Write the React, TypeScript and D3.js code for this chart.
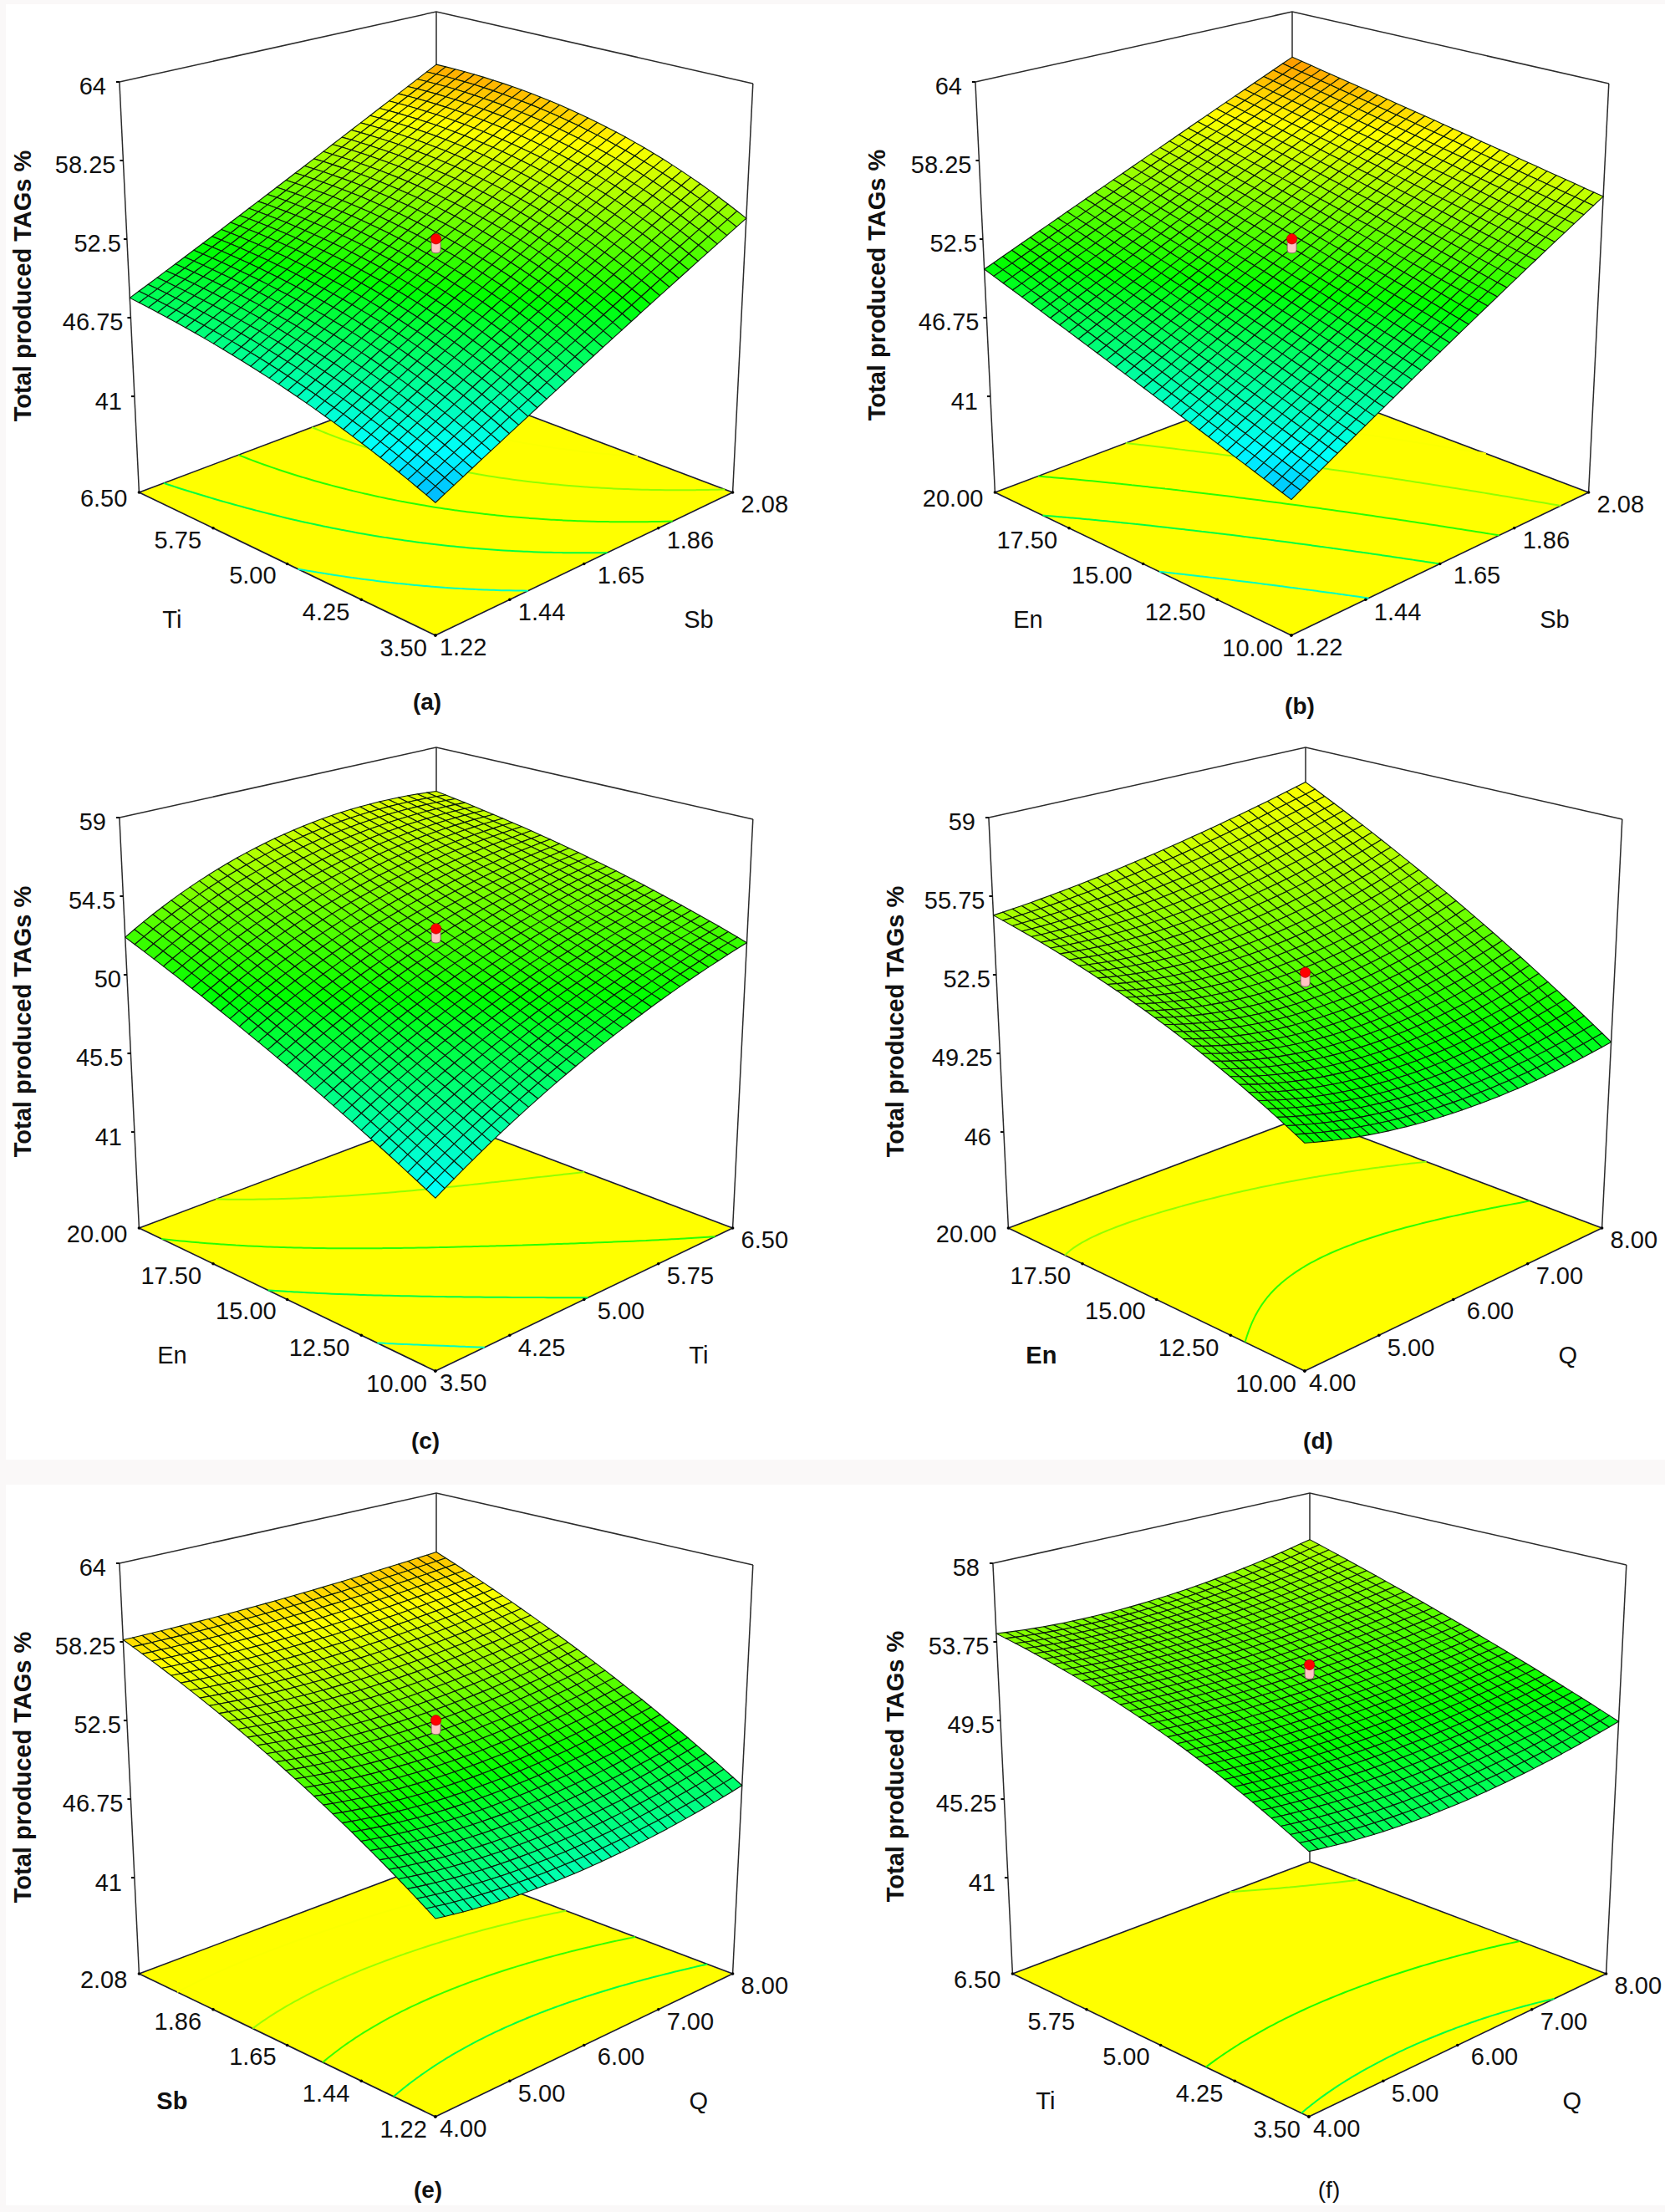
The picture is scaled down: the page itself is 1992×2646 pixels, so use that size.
import React from "react";
import * as d3 from "d3";

const WIDTH = 1992;
const HEIGHT = 2646;
const RESPONSE = "Total produced TAGs %";

// Surface readings: rows go front -> left corner, columns go front -> right corner.
const surfaceA = [[42.7, 48.1, 54.1], [46.2, 52.1, 58.4], [48.2, 53.45, 59.7]];
const surfaceB = [[42.9, 49.0, 55.7], [46.4, 51.9, 57.9], [50.3, 55.0, 60.3]];
const surfaceC = [[44.4, 48.8, 51.9], [48.4, 52.2, 54.4], [52.15, 55.75, 56.2]];
const surfaceD = [[50.5, 49.4, 49.75], [53.2, 52.4, 53.7], [54.96, 55.8, 57.4]];
const surfaceE = [[47.0, 46.3, 47.8], [53.3, 52.6, 53.9], [58.4, 58.5, 59.2]];
const surfaceF = [[48.7, 48.3, 49.5], [52.1, 51.8, 52.4], [54.2, 53.9, 55.2]];

// z axis ticks
const zTicksA = ["41", "46.75", "52.5", "58.25", "64"];
const zTicksC = ["41", "45.5", "50", "54.5", "59"];
const zTicksD = ["46", "49.25", "52.5", "55.75", "59"];
const zTicksF = ["41", "45.25", "49.5", "53.75", "58"];

// floor axis ticks
const ticksTi = ["3.50", "4.25", "5.00", "5.75", "6.50"];
const ticksSb = ["1.22", "1.44", "1.65", "1.86", "2.08"];
const ticksEn = ["10.00", "12.50", "15.00", "17.50", "20.00"];
const ticksQ = ["4.00", "5.00", "6.00", "7.00", "8.00"];

// contour levels on the floor
const contoursA = [46, 49, 51.6, 54.4, 57.2];
const contoursC = [46, 48.9, 51.6, 54.4];
const contoursD = [51.7, 54.4];
const contoursE = [48.9, 51.9, 54.6, 57.2];
const contoursF = [48.9, 51.2, 54.3];

// design point heights
const designPoints = [53.05, 53.05, 53.05, 52.9, 53.05, 52.9];

const panelNames = ["(a)", "(b)", "(c)", "(d)", "(e)", "(f)"];

type Panel = {
  surface: number[][]; zTicks: string[]; leftTicks: string[]; rightTicks: string[];
  leftName: string; rightName: string; leftBold?: boolean; contours: number[];
  dx: number; dy: number; design: number; name: string;
  titleX: number; titleY: number; capX: number; capY: number; capBold: boolean;
};

const panels: Panel[] = [
  { surface: surfaceA, zTicks: zTicksA, leftTicks: ticksTi, rightTicks: ticksSb, leftName: "Ti", rightName: "Sb", contours: contoursA, dx: 0, dy: 0, design: designPoints[0], name: panelNames[0], titleX: 27, titleY: 342, capX: 511, capY: 839, capBold: true },
  { surface: surfaceB, zTicks: zTicksA, leftTicks: ticksEn, rightTicks: ticksSb, leftName: "En", rightName: "Sb", contours: contoursA, dx: 1024, dy: 0, design: designPoints[1], name: panelNames[1], titleX: 1049, titleY: 341, capX: 1555, capY: 844, capBold: true },
  { surface: surfaceC, zTicks: zTicksC, leftTicks: ticksEn, rightTicks: ticksTi, leftName: "En", rightName: "Ti", contours: contoursC, dx: 0, dy: 880, design: designPoints[2], name: panelNames[2], titleX: 27, titleY: 1222, capX: 509, capY: 1723, capBold: true },
  { surface: surfaceD, zTicks: zTicksD, leftTicks: ticksEn, rightTicks: ticksQ, leftName: "En", rightName: "Q", leftBold: true, contours: contoursD, dx: 1040, dy: 880, design: designPoints[3], name: panelNames[3], titleX: 1071, titleY: 1222, capX: 1577, capY: 1723, capBold: true },
  { surface: surfaceE, zTicks: zTicksA, leftTicks: ticksSb, rightTicks: ticksQ, leftName: "Sb", rightName: "Q", leftBold: true, contours: contoursE, dx: 0, dy: 1772, design: designPoints[4], name: panelNames[4], titleX: 27, titleY: 2114, capX: 512, capY: 2619, capBold: true },
  { surface: surfaceF, zTicks: zTicksF, leftTicks: ticksTi, rightTicks: ticksQ, leftName: "Ti", rightName: "Q", contours: contoursF, dx: 1045, dy: 1772, design: designPoints[5], name: panelNames[5], titleX: 1071, titleY: 2113, capX: 1590, capY: 2619, capBold: false },
];

// Box geometry of one panel, corners of floor and ceiling
const floorBox = { F: [520.9, 760], L: [166.4, 589], R: [876.6, 589], B: [522, 455] };
const topBox = { F: [521, 213.7], L: [142.9, 98], R: [900.8, 99.9], B: [522, 14] };
const LOW_TICK_T = 0.234;
const CELLS = 33;
const FONT = "'Liberation Sans', Arial, sans-serif";

const colorScale = d3
  .scaleLinear<string>()
  .domain([36, 43, 44.5, 50.5, 57.3, 60, 65])
  .range(["#0000ff", "#00beff", "#00ffff", "#00ff00", "#ffff00", "#ffa000", "#ff0000"])
  .clamp(true);

const lerp = (a: number[], b: number[], t: number) => [a[0] + (b[0] - a[0]) * t, a[1] + (b[1] - a[1]) * t];

function bilinear(c: { F: number[]; L: number[]; R: number[]; B: number[] }, u: number, v: number) {
  return [0, 1].map(
    (k) => c.F[k] * (1 - u) * (1 - v) + c.L[k] * u * (1 - v) + c.R[k] * (1 - u) * v + c.B[k] * u * v
  );
}

const quad = (t: number) => [2 * (t - 0.5) * (t - 1), 4 * t * (1 - t), 2 * t * (t - 0.5)];

function surfaceAt(table: number[][], u: number, v: number) {
  const a = quad(u);
  const b = quad(v);
  let s = 0;
  for (let i = 0; i < 3; i++) for (let j = 0; j < 3; j++) s += a[i] * b[j] * table[i][j];
  return s;
}

function PanelView({ p }: { p: Panel }) {
  const zLow = +p.zTicks[0];
  const zHigh = +p.zTicks[p.zTicks.length - 1];
  const zT = d3.scaleLinear().domain([zLow, zHigh]).range([LOW_TICK_T, 1]);
  const project = (u: number, v: number, z: number) => lerp(bilinear(floorBox, u, v), bilinear(topBox, u, v), zT(z));
  const floorAt = (u: number, v: number) => bilinear(floorBox, u, v);
  const pts = (a: number[][]) => a.map((q) => q.map((n) => n.toFixed(2)).join(",")).join(" ");

  const cellScale = d3.scaleLinear().domain([0, CELLS]).range([0, 1]);
  const cells: React.ReactNode[] = [];
  for (let i = CELLS - 1; i >= 0; i--) {
    for (let j = CELLS - 1; j >= 0; j--) {
      const c = [[i, j], [i + 1, j], [i + 1, j + 1], [i, j + 1]].map(([a, b]) => [cellScale(a), cellScale(b)]);
      const zs = c.map(([u, v]) => surfaceAt(p.surface, u, v));
      cells.push(
        <polygon
          key={`${i}-${j}`}
          points={pts(c.map(([u, v], k) => project(u, v, zs[k])))}
          fill={colorScale(d3.mean(zs) as number)}
          stroke="#0a1a0a"
          strokeWidth={1.1}
          strokeLinejoin="round"
        />
      );
    }
  }

  // floor contours
  const n = 90;
  const gridValues: number[] = [];
  for (let y = 0; y < n; y++) for (let x = 0; x < n; x++) gridValues.push(surfaceAt(p.surface, y / (n - 1), x / (n - 1)));
  const contourGen = d3.contours().size([n, n]).thresholds(p.contours);
  const contourPaths = contourGen(gridValues).map((c) => {
    let d = "";
    const onEdge = (q: number[]) => q[0] <= 0 || q[1] <= 0 || q[0] >= n || q[1] >= n;
    const toFloor = (q: number[]) => {
      const v = Math.min(1, Math.max(0, (q[0] - 0.5) / (n - 1)));
      const u = Math.min(1, Math.max(0, (q[1] - 0.5) / (n - 1)));
      return floorAt(u, v);
    };
    for (const poly of c.coordinates) {
      for (const ring of poly) {
        let pen = false;
        for (let k = 1; k < ring.length; k++) {
          const a = ring[k - 1];
          const b = ring[k];
          if (onEdge(a) || onEdge(b)) { pen = false; continue; }
          const pa = toFloor(a);
          const pb = toFloor(b);
          if (!pen) d += `M${pa[0].toFixed(2)},${pa[1].toFixed(2)}`;
          d += `L${pb[0].toFixed(2)},${pb[1].toFixed(2)}`;
          pen = true;
        }
      }
    }
    return { d, level: c.value };
  });

  const leftPos = d3.scalePoint<string>().domain(p.leftTicks).range([0, 1]);
  const rightPos = d3.scalePoint<string>().domain(p.rightTicks).range([0, 1]);
  const leftGap = [10, 14, 13, 14, 14];
  const leftDy = [15, 14.5, 13.5, 14, 7];
  const rightGap = [5, 10, 16, 10, 10];
  const rightDy = [14, 14.5, 13.5, 14, 14];
  const zGap = [15, 9, 7, 9, 16];
  const tickSize = 29;
  const base = 10.4;

  const dot = project(0.5, 0.5, p.design);
  const frame = "#2b2b2b";
  const corner = (u: number, v: number, box: typeof floorBox) => bilinear(box, u, v);

  return (
    <g>
      <g transform={`translate(${p.dx},${p.dy})`}>
        {/* box */}
        <polyline points={pts([corner(1, 0, topBox), corner(1, 1, topBox), corner(0, 1, topBox)])} fill="none" stroke={frame} strokeWidth={1.5} />
        <line x1={topBox.B[0]} y1={topBox.B[1]} x2={floorBox.B[0]} y2={floorBox.B[1]} stroke={frame} strokeWidth={1.5} />
        <line x1={topBox.L[0]} y1={topBox.L[1]} x2={floorBox.L[0]} y2={floorBox.L[1]} stroke={frame} strokeWidth={1.5} />
        <line x1={topBox.R[0]} y1={topBox.R[1]} x2={floorBox.R[0]} y2={floorBox.R[1]} stroke={frame} strokeWidth={1.5} />
        {/* floor */}
        <polygon points={pts([floorBox.F, floorBox.L, floorBox.B, floorBox.R])} fill="#ffff00" stroke="#1a1a30" strokeWidth={1.6} strokeLinejoin="round" />
        {contourPaths.map((c) => (
          <path key={c.level} d={c.d} fill="none" stroke={colorScale(c.level)} strokeWidth={2} />
        ))}
        {/* surface */}
        {cells}
        {/* design point */}
        <rect x={dot[0] - 5.5} y={dot[1] + 1} width={11} height={16} rx={4} fill="#ffc4c4" stroke="#7a5a5a" strokeWidth={0.9} />
        <circle cx={dot[0]} cy={dot[1]} r={6.2} fill="#ff0000" stroke="#a00000" strokeWidth={0.6} />
        {/* z ticks */}
        {p.zTicks.map((t, i) => {
          const q = project(1, 0, +t);
          return (
            <g key={t}>
              <line x1={q[0] - 4} y1={q[1]} x2={q[0]} y2={q[1]} stroke="#000" strokeWidth={2} />
              <text x={q[0] - zGap[i]} y={q[1] + 5 + base} textAnchor="end" fontSize={tickSize} fontFamily={FONT} fill="#111">{t}</text>
            </g>
          );
        })}
        {/* floor ticks */}
        {p.leftTicks.map((t, i) => {
          const q = floorAt(leftPos(t) as number, 0);
          return (
            <g key={t}>
              <circle cx={q[0]} cy={q[1]} r={1.8} fill="#000" />
              <text x={q[0] - leftGap[i]} y={q[1] + leftDy[i] + base} textAnchor="end" fontSize={tickSize} fontFamily={FONT} fill="#111">{t}</text>
            </g>
          );
        })}
        {p.rightTicks.map((t, i) => {
          const q = floorAt(0, rightPos(t) as number);
          return (
            <g key={t}>
              <circle cx={q[0]} cy={q[1]} r={1.8} fill="#000" />
              <text x={q[0] + rightGap[i]} y={q[1] + rightDy[i] + base} textAnchor="start" fontSize={tickSize} fontFamily={FONT} fill="#111">{t}</text>
            </g>
          );
        })}
        <text x={floorBox.F[0] - 315} y={floorBox.F[1] - 19 + base} textAnchor="middle" fontSize={tickSize} fontFamily={FONT} fontWeight={p.leftBold ? 700 : 400} fill="#111">{p.leftName}</text>
        <text x={floorBox.F[0] + 315} y={floorBox.F[1] - 19 + base} textAnchor="middle" fontSize={tickSize} fontFamily={FONT} fill="#111">{p.rightName}</text>
      </g>
      <text transform={`translate(${p.titleX + 10},${p.titleY}) rotate(-90)`} textAnchor="middle" fontSize={29} fontWeight={700} fontFamily={FONT} fill="#111">{RESPONSE}</text>
      <text x={p.capX} y={p.capY + 10} textAnchor="middle" fontSize={28} fontWeight={p.capBold ? 700 : 400} fontFamily={FONT} fill="#111">{p.name}</text>
    </g>
  );
}

export default function App() {
  return (
    <svg width={WIDTH} height={HEIGHT} viewBox={`0 0 ${WIDTH} ${HEIGHT}`} style={{ position: "absolute", left: 0, top: 0, display: "block" }}>
      <rect width={WIDTH} height={HEIGHT} fill="#faf8f8" />
      <rect x={7} y={5} width={WIDTH - 7} height={1741} fill="#ffffff" />
      <rect x={7} y={1776} width={WIDTH - 7} height={862} fill="#ffffff" />
      {panels.map((p) => (
        <PanelView key={p.name} p={p} />
      ))}
    </svg>
  );
}
